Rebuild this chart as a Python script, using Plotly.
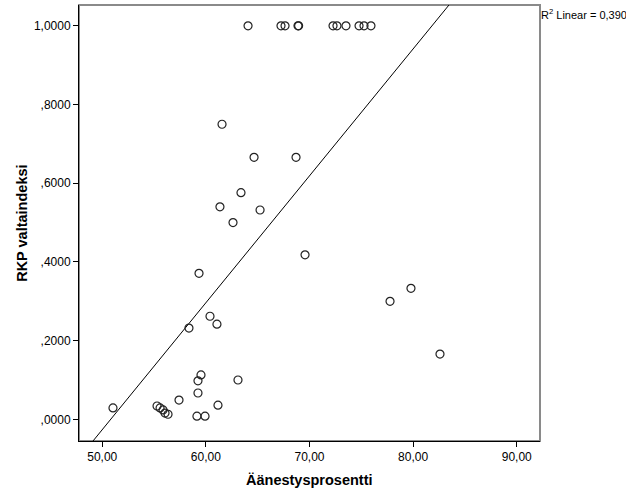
import numpy as np
import plotly.graph_objects as go

# Data (x = Äänestysprosentti, y = RKP valtaindeksi)
turnout = [64.07, 67.25, 67.64, 68.89, 68.95, 72.27, 72.65, 73.52, 74.78, 75.26, 75.93,
           61.56, 64.65, 68.70, 63.39, 61.36, 65.23, 62.62, 69.57, 59.34,
           79.79, 77.77, 60.40, 61.07, 58.37, 82.59,
           63.10, 59.53, 59.24, 57.41, 59.24, 61.17,
           51.04, 55.29, 55.58, 55.87, 56.06, 56.35, 59.14, 59.92]
power_index = [1.0, 1.0, 1.0, 1.0, 1.0, 1.0, 1.0, 1.0, 1.0, 1.0, 1.0,
               0.750, 0.666, 0.666, 0.576, 0.540, 0.532, 0.500, 0.418, 0.371,
               0.333, 0.300, 0.262, 0.242, 0.232, 0.166,
               0.100, 0.113, 0.098, 0.049, 0.067, 0.036,
               0.029, 0.034, 0.029, 0.024, 0.016, 0.013, 0.008, 0.008]

# Linear fit line (R² = 0,390)
fit_slope = 0.03226
fit_intercept = -1.6393

x_tickvals = [50, 60, 70, 80, 90]
x_ticktext = ["50,00", "60,00", "70,00", "80,00", "90,00"]
y_tickvals = [0.0, 0.2, 0.4, 0.6, 0.8, 1.0]
y_ticktext = [",0000", ",2000", ",4000", ",6000", ",8000", "1,0000"]
x_range = [47.76, 92.24]
y_range = [-0.055, 1.053]
r2_label = "R<sup>2</sup> Linear = 0,390"

line_x = np.array(x_range)
line_y = fit_intercept + fit_slope * line_x

fig = go.Figure()
fig.add_trace(go.Scatter(x=line_x, y=line_y, mode="lines",
                         line=dict(color="black", width=1), hoverinfo="skip"))
fig.add_trace(go.Scatter(x=turnout, y=power_index, mode="markers",
                         marker=dict(symbol="circle-open", size=8, color="#222222",
                                     line=dict(width=1.2, color="#222222"))))

font_family = "Liberation Sans, Arial, sans-serif"
fig.update_layout(
    width=626, height=501,
    margin=dict(l=79, r=86, t=5, b=60),
    paper_bgcolor="white", plot_bgcolor="white",
    showlegend=False,
    font=dict(family=font_family, size=12, color="black"),
    xaxis=dict(range=x_range, tickvals=x_tickvals, ticktext=x_ticktext,
               showgrid=False, zeroline=False, showline=True, linecolor="black",
               linewidth=1, ticks="outside", ticklen=5, tickcolor="black",
               tickfont=dict(size=12, family=font_family)),
    yaxis=dict(range=y_range, tickvals=y_tickvals, ticktext=y_ticktext,
               showgrid=False, zeroline=False, showline=True, linecolor="black",
               linewidth=1, ticks="outside", ticklen=5, tickcolor="black",
               tickfont=dict(size=12, family=font_family)),
    shapes=[dict(type="rect", xref="paper", yref="paper", x0=0, x1=1, y0=0, y1=1,
                 line=dict(color="#8a8a8a", width=2), layer="below")],
    annotations=[
        dict(text=r2_label, xref="paper", yref="paper", x=1.0, y=1.0,
             xanchor="left", yanchor="top", showarrow=False, xshift=-1,
             font=dict(size=11, family=font_family)),
        dict(text="<b>Äänestysprosentti</b>", xref="paper", yref="paper",
             x=0.5, y=-0.09, xanchor="center", yanchor="middle", showarrow=False,
             font=dict(size=14.5, family=font_family)),
        dict(text="<b>RKP valtaindeksi</b>", xref="paper", yref="paper",
             x=-0.124, y=0.5, xanchor="center", yanchor="middle", showarrow=False,
             textangle=-90, font=dict(size=14.5, family=font_family)),
    ],
)

fig.write_html("out.html", config={"displayModeBar": False},
               post_script="document.body.style.margin='0';")
